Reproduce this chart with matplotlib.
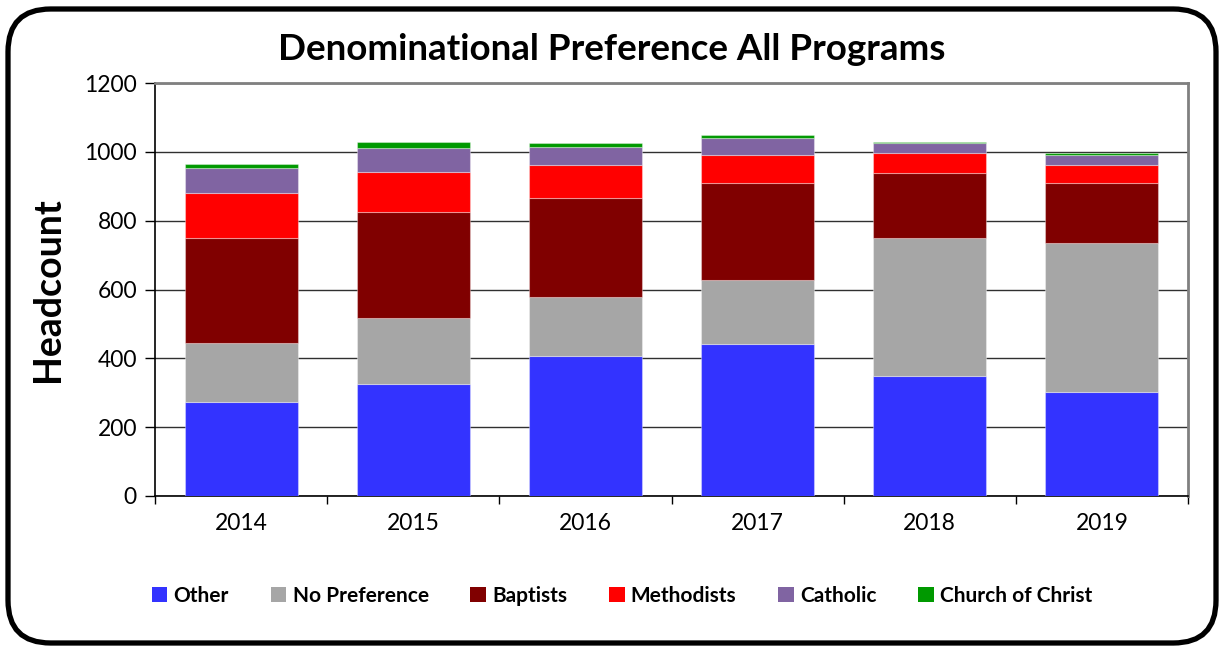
import matplotlib
matplotlib.use("Agg")
import matplotlib.pyplot as plt
import numpy as np
from matplotlib.patches import FancyBboxPatch, Patch

years = ["2014", "2015", "2016", "2017", "2018", "2019"]
other = [272, 325, 408, 442, 350, 302]
no_pref = [172, 191, 171, 186, 399, 432]
baptists = [305, 310, 286, 280, 189, 174]
methodists = [130, 116, 97, 83, 58, 54]
catholic = [73, 68, 53, 48, 29, 29]
church_of_christ = [14, 19, 10, 10, 4, 5]

series_names = ["Other", "No Preference", "Baptists", "Methodists", "Catholic", "Church of Christ"]
series_vals = [other, no_pref, baptists, methodists, catholic, church_of_christ]
colors = ["#3333FF", "#A6A6A6", "#800000", "#FF0000", "#8064A2", "#009900"]

plt.rcParams['font.family'] = ['Lato', 'DejaVu Sans']

fig = plt.figure(figsize=(12.2, 6.46), dpi=100)
fig.patch.set_facecolor("white")

# rounded outer border
border = FancyBboxPatch((8/1220, 3/646), 1208/1220, 634/646,
                        boxstyle="round,pad=0,rounding_size=0.035",
                        transform=fig.transFigure, fill=False,
                        edgecolor="black", linewidth=3.8, mutation_aspect=1220/646)
fig.patches.append(border)

ax = fig.add_axes([155/1220, 1 - 496/646, (1188 - 155)/1220, (496 - 83)/646])

x = np.arange(len(years))
bottom = np.zeros(len(years))
for name, vals, c in zip(series_names, series_vals, colors):
    ax.bar(x, vals, width=0.656, bottom=bottom, color=c, label=name,
           edgecolor=(1, 1, 1, 0.35), linewidth=0.8, zorder=3)
    bottom += np.array(vals)

ax.set_xlim(-0.5, len(years) - 0.5)
ax.set_ylim(0, 1200)
ax.set_yticks(range(0, 1201, 200))
ax.yaxis.grid(True, color="#303030", linewidth=1.0, zorder=0)
ax.set_axisbelow(True)

ax.set_xticks(x)
ax.set_xticklabels(years, fontsize=16.5)
ax.tick_params(axis='x', length=0, pad=12)
ax.set_xticks(np.arange(-0.5, len(years)), minor=True)
ax.tick_params(axis='x', which='minor', length=6, width=1, color='black', direction='out')
ax.tick_params(axis='y', length=7, width=1, labelsize=16.5, pad=6, direction='out')

ax.spines['left'].set_color('black')
ax.spines['bottom'].set_color('black')
ax.spines['left'].set_linewidth(1.2)
ax.spines['bottom'].set_linewidth(1.2)
ax.spines['top'].set_color('#808080')
ax.spines['right'].set_color('#808080')
ax.spines['top'].set_linewidth(2)
ax.spines['right'].set_linewidth(2)

ax.set_ylabel("Headcount", fontsize=27, fontweight='bold', labelpad=14)

fig.text(612/1220, 1 - 50/646, "Denominational Preference All Programs",
         ha='center', va='center', fontsize=26.5, fontweight='bold')

handles = [Patch(facecolor=c, edgecolor='none') for c in colors]
leg = fig.legend(handles, series_names, loc='center', bbox_to_anchor=(622/1220, 1 - 596/646),
                 ncol=6, frameon=False, handlelength=0.75, handleheight=0.75,
                 handletextpad=0.3, columnspacing=2.0,
                 prop={'weight': 'bold', 'size': 15})

fig.savefig("out.png", dpi=100, facecolor="white")
